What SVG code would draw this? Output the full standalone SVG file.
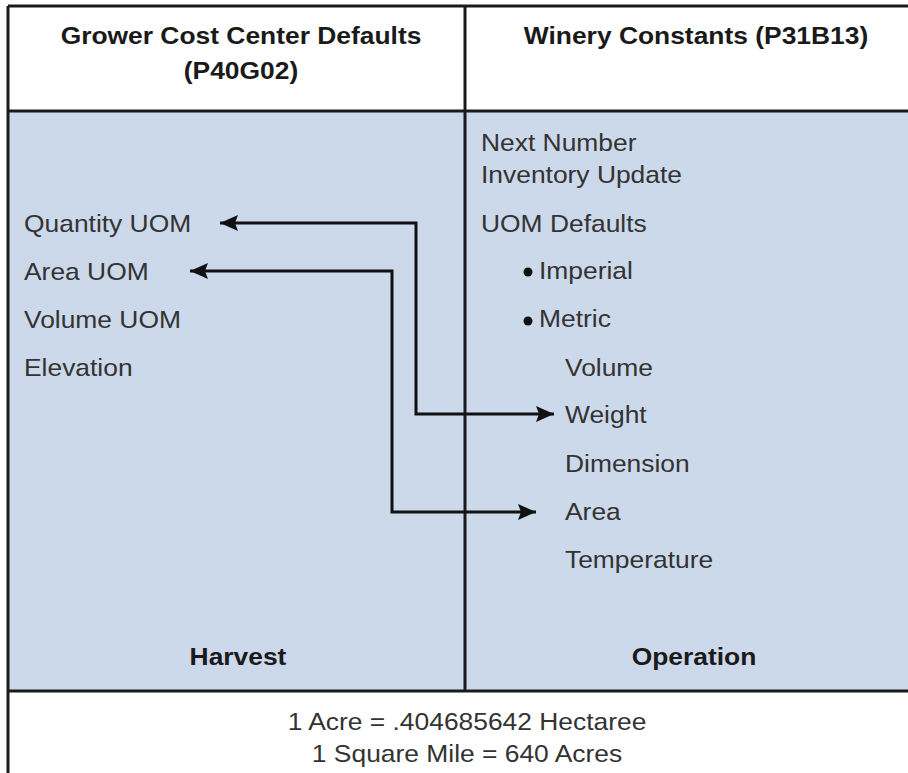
<svg xmlns="http://www.w3.org/2000/svg" width="908" height="773" viewBox="0 0 908 773">
<defs>
<style>
.t{font-family:"Liberation Sans",Arial,sans-serif;font-size:24px;fill:#333}
.h{font-family:"Liberation Sans",Arial,sans-serif;font-size:24px;font-weight:bold;fill:#1a1a1a;text-anchor:middle}
.f{font-family:"Liberation Sans",Arial,sans-serif;font-size:24px;fill:#333;text-anchor:middle}
.ln{stroke:#1a1a1a;stroke-width:3;fill:none}
.c{stroke:#111;stroke-width:3;fill:none}
</style>
<marker id="ah" viewBox="0 0 18 16" refX="18" refY="8" markerWidth="18" markerHeight="16" markerUnits="userSpaceOnUse" orient="auto-start-reverse">
<path d="M0,0 L18,8 L0,16 L3,8 Z" fill="#111"/>
</marker>
</defs>
<rect x="0" y="0" width="908" height="773" fill="#fff"/>
<rect x="8" y="111" width="900" height="580" fill="#ccd9ea"/>
<g id="frame">
<line class="ln" x1="8" y1="6" x2="908" y2="6"/>
<line class="ln" x1="8" y1="6" x2="8" y2="773"/>
<line class="ln" x1="8" y1="111" x2="908" y2="111"/>
<line class="ln" x1="8" y1="691" x2="908" y2="691"/>
<line class="ln" x1="465" y1="6" x2="465" y2="691"/>
</g>
<g id="grower-header">
<text class="h" transform="translate(241 44) scale(1.1 1)">Grower Cost Center Defaults</text>
<text class="h" transform="translate(241 79) scale(1.1 1)">(P40G02)</text>
</g>
<g id="winery-header">
<text class="h" transform="translate(696 44) scale(1.1 1)">Winery Constants (P31B13)</text>
</g>
<g id="harvest">
<text class="t" transform="translate(24 232) scale(1.1 1)">Quantity UOM</text>
<text class="t" transform="translate(24 280) scale(1.1 1)">Area UOM</text>
<text class="t" transform="translate(24 328) scale(1.1 1)">Volume UOM</text>
<text class="t" transform="translate(24 376) scale(1.1 1)">Elevation</text>
<text class="h" transform="translate(238 665) scale(1.1 1)">Harvest</text>
</g>
<g id="operation">
<text class="t" transform="translate(481 151) scale(1.1 1)">Next Number</text>
<text class="t" transform="translate(481 183) scale(1.1 1)">Inventory Update</text>
<text class="t" transform="translate(481 232) scale(1.1 1)">UOM Defaults</text>
<circle cx="528" cy="272" r="4.5" fill="#111"/>
<text class="t" transform="translate(539 279) scale(1.1 1)">Imperial</text>
<circle cx="528" cy="321" r="4.5" fill="#111"/>
<text class="t" transform="translate(539 327) scale(1.1 1)">Metric</text>
<text class="t" transform="translate(565 376) scale(1.1 1)">Volume</text>
<text class="t" transform="translate(565 423) scale(1.1 1)">Weight</text>
<text class="t" transform="translate(565 472) scale(1.1 1)">Dimension</text>
<text class="t" transform="translate(565 520) scale(1.1 1)">Area</text>
<text class="t" transform="translate(565 568) scale(1.1 1)">Temperature</text>
<text class="h" transform="translate(694 665) scale(1.1 1)">Operation</text>
</g>
<g id="footer">
<text class="f" transform="translate(467 730) scale(1.1 1)">1 Acre = .404685642 Hectaree</text>
<text class="f" transform="translate(467 762) scale(1.1 1)">1 Square Mile = 640 Acres</text>
</g>
<g id="connectors">
<path class="c" d="M220,223 H416 V414 H554" marker-start="url(#ah)" marker-end="url(#ah)"/>
<path class="c" d="M190,271 H392 V512 H536" marker-start="url(#ah)" marker-end="url(#ah)"/>
</g>
</svg>
